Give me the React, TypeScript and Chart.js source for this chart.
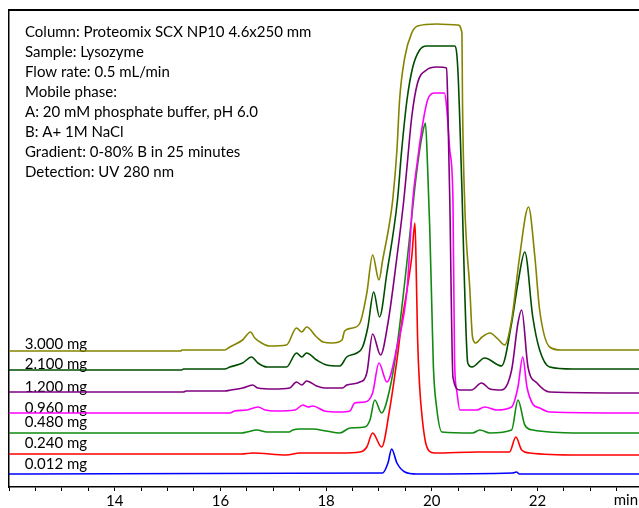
import React, { useEffect, useRef } from 'react';
import { Chart, registerables } from 'chart.js';

Chart.register(...registerables);

// [retention time (min), signal] pairs, one per loading
const trace3000: number[][] = [
  [12, 136], [15.25, 136], [15.27, 137], [16.08, 137], [16.18, 140], [16.42, 147], [16.57, 155], [16.65, 149],
  [16.78, 144], [16.93, 141], [17.25, 142], [17.44, 159], [17.54, 155], [17.63, 160], [17.82, 150], [17.94, 145],
  [18.12, 144], [18.3, 147], [18.35, 156], [18.5, 159], [18.64, 164], [18.77, 194], [18.88, 232], [19.0, 207],
  [19.07, 227], [19.2, 264], [19.26, 287], [19.34, 337], [19.39, 387], [19.49, 430], [19.62, 454], [19.73, 461],
  [20.1, 463], [20.49, 462], [20.57, 454], [20.58, 387], [20.62, 287], [20.72, 197], [20.77, 150], [20.83, 144],
  [20.95, 150], [21.1, 154], [21.25, 148], [21.38, 142], [21.51, 167], [21.66, 230], [21.83, 280], [21.95, 230],
  [22.04, 177], [22.23, 140], [22.45, 137], [23.92, 137],
];
const trace2100: number[][] = [
  [12, 117], [15.27, 117], [15.3, 118], [16.08, 118], [16.18, 120], [16.42, 124], [16.59, 130], [16.71, 124],
  [16.88, 120], [17.25, 120], [17.44, 134], [17.54, 130], [17.63, 134], [17.82, 127], [18.01, 122], [18.26, 121],
  [18.39, 130], [18.58, 134], [18.69, 140], [18.79, 160], [18.9, 195], [19.01, 170], [19.15, 214], [19.35, 287],
  [19.43, 337], [19.53, 387], [19.64, 420], [19.77, 437], [19.9, 441], [20.43, 441], [20.49, 420], [20.57, 297],
  [20.62, 200], [20.68, 124], [20.76, 120], [21.0, 129], [21.32, 121], [21.51, 164], [21.63, 204], [21.76, 235],
  [21.91, 170], [22.04, 137], [22.23, 120], [22.67, 118], [23.92, 118],
];
const trace1200: number[][] = [
  [12, 95], [15.3, 95], [15.35, 96], [16.08, 96], [16.2, 97], [16.42, 99], [16.61, 102], [16.71, 99],
  [17.0, 98], [17.31, 99], [17.44, 105], [17.54, 102], [17.63, 106], [17.82, 101], [17.97, 99], [18.31, 99],
  [18.39, 102], [18.64, 105], [18.77, 114], [18.88, 153], [19.03, 132], [19.17, 164], [19.34, 230], [19.47, 287],
  [19.53, 320], [19.62, 370], [19.73, 404], [19.9, 417], [20.09, 420], [20.28, 419], [20.3, 387], [20.34, 287],
  [20.4, 110], [20.53, 97], [20.75, 97], [20.94, 104], [21.1, 98], [21.32, 97], [21.51, 117], [21.63, 164],
  [21.7, 177], [21.82, 120], [21.99, 104], [22.23, 95], [23.92, 94],
];
const trace0960: number[][] = [
  [12, 74], [16.18, 74], [16.27, 76], [16.5, 77], [16.71, 80], [16.85, 77], [17.03, 76], [17.41, 77],
  [17.56, 82], [17.66, 80], [17.75, 81], [17.97, 76], [18.26, 75], [18.45, 76], [18.54, 84], [18.73, 85],
  [18.88, 94], [19.0, 124], [19.15, 105], [19.34, 140], [19.53, 197], [19.64, 287], [19.73, 327], [19.83, 364],
  [19.92, 387], [20.06, 394], [20.24, 394], [20.28, 380], [20.34, 337], [20.4, 287], [20.43, 127], [20.47, 97],
  [20.53, 77], [20.85, 77], [21.0, 80], [21.23, 77], [21.51, 80], [21.63, 100], [21.72, 130], [21.8, 100],
  [21.91, 83], [22.04, 79], [22.23, 75], [23.92, 74],
];
const trace0480: number[][] = [
  [12, 54], [16.4, 54], [16.5, 55], [16.69, 57], [16.88, 55], [17.3, 55], [17.37, 57], [17.5, 58],
  [17.75, 58], [18.0, 56], [18.26, 54], [18.45, 59], [18.73, 60], [18.83, 67], [18.92, 87], [19.05, 74],
  [19.2, 97], [19.34, 140], [19.53, 225], [19.68, 300], [19.77, 337], [19.83, 355], [19.88, 364], [19.92, 320],
  [19.96, 260], [20.0, 180], [20.03, 120], [20.09, 80], [20.19, 55], [20.77, 54], [20.91, 57], [21.1, 54],
  [21.51, 57], [21.63, 87], [21.76, 62], [21.91, 57], [22.8, 54], [23.92, 54],
];
const trace0240: number[][] = [
  [12, 33], [16.4, 33], [16.61, 34], [17.25, 32], [17.5, 34], [17.75, 34], [18.26, 34], [18.64, 35],
  [18.77, 40], [18.88, 54], [19.05, 40], [19.2, 77], [19.34, 127], [19.43, 164], [19.53, 197], [19.62, 230],
  [19.68, 264], [19.7, 230], [19.73, 150], [19.77, 100], [19.82, 68], [19.88, 45], [19.95, 36], [20.05, 34],
  [20.87, 35], [21.47, 35], [21.59, 50], [21.7, 37], [21.85, 34], [22.8, 32], [23.92, 32],
];
const trace0012: number[][] = [
  [12, 13], [19.07, 14], [19.17, 24], [19.24, 38], [19.34, 24], [19.49, 15], [19.71, 13], [21.53, 14],
  [21.6, 15], [21.66, 13], [23.92, 13],
];

const massLabels = ['3.000 mg', '2.100 mg', '1.200 mg', '0.960 mg', '0.480 mg', '0.240 mg', '0.012 mg'];
const traces = [trace3000, trace2100, trace1200, trace0960, trace0480, trace0240, trace0012];
const traceColors = ['#848400', '#004d00', '#800080', '#ff00ff', '#118a11', '#ff0000', '#0000ff'];
// signal level where each mass label sits (just above its baseline)
const labelLevels = [143, 123, 100, 79, 65, 44, 23];

const infoLines = [
  'Column: Proteomix SCX NP10 4.6x250 mm',
  'Sample: Lysozyme',
  'Flow rate: 0.5 mL/min',
  'Mobile phase:',
  'A: 20 mM phosphate buffer, pH 6.0',
  'B: A+ 1M NaCl',
  'Gradient: 0-80% B in 25 minutes',
  'Detection: UV 280 nm',
];

const FONT_FAMILY = 'Lato, "Open Sans", sans-serif';

const textPlugin = {
  id: 'chromText',
  beforeDatasetsDraw(chart: any) {
    const { ctx, chartArea, scales } = chart;
    ctx.save();
    ctx.fillStyle = '#000';
    ctx.font = `15px ${FONT_FAMILY}`;
    ctx.textBaseline = 'middle';
    ctx.textAlign = 'left';
    infoLines.forEach((line, i) => {
      ctx.fillText(line, chartArea.left + 16, chartArea.top + 22 + i * 20);
    });
    massLabels.forEach((label, i) => {
      ctx.fillText(label, scales.x.getPixelForValue(12.3), scales.y.getPixelForValue(labelLevels[i]));
    });
    ctx.restore();
  },
  afterDraw(chart: any) {
    const { ctx, chartArea } = chart;
    ctx.save();
    // frame line along the top
    ctx.strokeStyle = '#000';
    ctx.lineWidth = 2;
    ctx.beginPath();
    ctx.moveTo(chartArea.left - 1, chartArea.top);
    ctx.lineTo(chartArea.right, chartArea.top);
    ctx.stroke();
    // unit where the 24 label would be
    ctx.fillStyle = '#000';
    ctx.font = `15px ${FONT_FAMILY}`;
    ctx.textBaseline = 'middle';
    ctx.textAlign = 'right';
    ctx.fillText('min', chartArea.right - 1, chartArea.bottom + 13);
    ctx.restore();
  },
};

const ChromatogramChart: React.FC = () => {
  const canvasRef = useRef<HTMLCanvasElement | null>(null);

  useEffect(() => {
    if (!canvasRef.current) return;
    const ctx = canvasRef.current.getContext('2d');
    if (!ctx) return;

    const chart = new Chart(ctx, {
      type: 'line',
      data: {
        datasets: traces.map((trace, i) => ({
          label: massLabels[i],
          data: trace.map(([x, y]) => ({ x, y })),
          borderColor: traceColors[i],
          borderWidth: 1.6,
          pointRadius: 0,
          cubicInterpolationMode: 'monotone' as const,
          fill: false,
        })),
      },
      options: {
        responsive: false,
        animation: false,
        layout: { padding: { top: 10, left: 0, right: 0, bottom: 0 } },
        plugins: {
          legend: { display: false },
          tooltip: { enabled: false },
        },
        scales: {
          x: {
            type: 'linear',
            min: 12,
            max: 23.92,
            border: { display: true, color: '#000', width: 1.5 },
            grid: { display: true, drawOnChartArea: false, drawTicks: true, tickLength: 4, color: '#000' },
            ticks: {
              stepSize: 0.5,
              includeBounds: false,
              autoSkip: false,
              maxRotation: 0,
              padding: 1,
              color: '#000',
              font: { family: FONT_FAMILY, size: 15 },
              callback: (v: any) => (v % 2 === 0 && v >= 14 && v <= 22 ? String(v) : ''),
            },
            afterFit: (scale: any) => {
              scale.height = 21;
            },
          },
          y: {
            type: 'linear',
            min: 0,
            max: 477,
            ticks: { display: false },
            grid: { display: false, drawTicks: false },
            border: { display: true, color: '#000', width: 1.5 },
            afterFit: (scale: any) => {
              scale.width = 9;
            },
          },
        },
      },
      plugins: [textPlugin],
    });

    return () => {
      chart.destroy();
    };
  }, []);

  return <canvas ref={canvasRef} width={639} height={508} />;
};

const App: React.FC = () => (
  <div style={{ position: 'absolute', left: 0, top: 0, width: 639, height: 508 }}>
    <ChromatogramChart />
  </div>
);

export default App;
